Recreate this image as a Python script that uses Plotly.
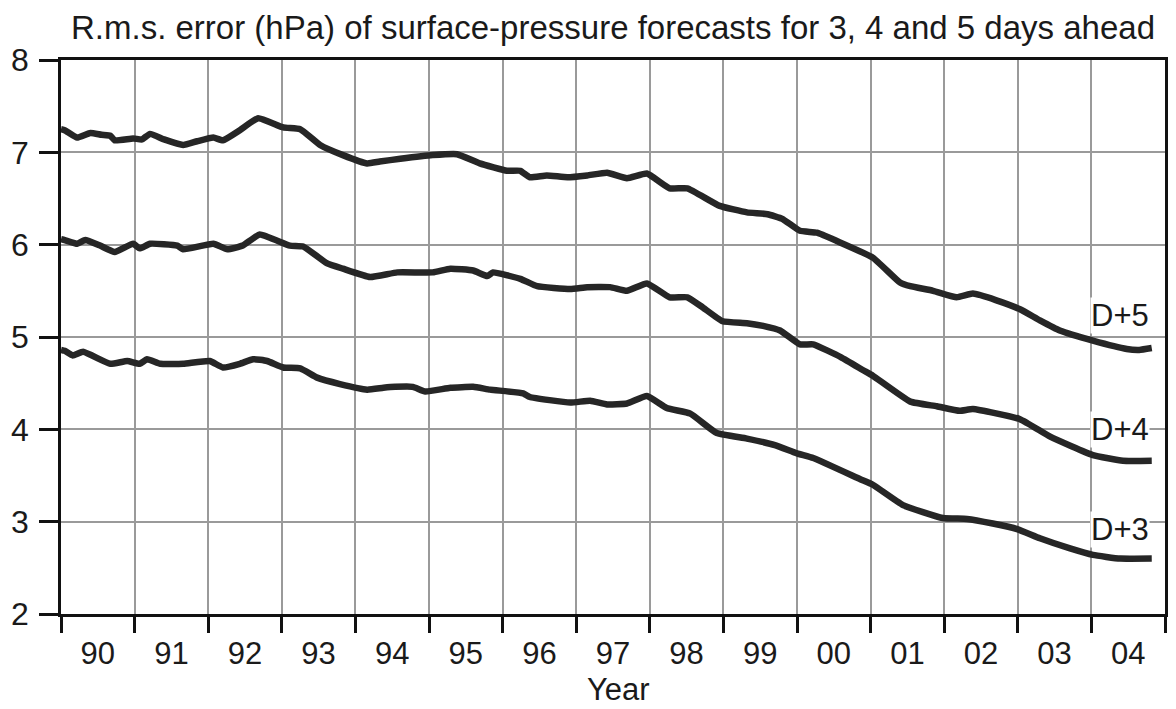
import plotly.graph_objects as go

# D+5 series (fractional year, hPa)
d5_x = [1990.0, 1990.05, 1990.22, 1990.4, 1990.55, 1990.67, 1990.73, 1990.98, 1991.1, 1991.21, 1991.4, 1991.66,
        1991.85, 1992.07, 1992.2, 1992.43, 1992.68, 1993.02, 1993.25, 1993.52, 1993.83, 1994.16, 1994.33,
        1994.61, 1995.05, 1995.38, 1995.69, 1996.06, 1996.24, 1996.37, 1996.6, 1996.88, 1997.15, 1997.42,
        1997.69, 1997.96, 1998.27, 1998.51, 1998.95, 1999.32, 1999.6, 1999.8, 2000.04, 2000.27, 2000.54,
        2001.03, 2001.4, 2001.54, 2001.85, 2002.17, 2002.39, 2002.7, 2003.03, 2003.3, 2003.57, 2004.02,
        2004.48, 2004.65, 2004.82]
d5_y = [7.25, 7.24, 7.16, 7.21, 7.19, 7.18, 7.13, 7.15, 7.14, 7.2, 7.14, 7.08,
        7.12, 7.16, 7.13, 7.24, 7.37, 7.27, 7.25, 7.08, 6.97, 6.88, 6.90,
        6.93, 6.97, 6.98, 6.88, 6.80, 6.80, 6.73, 6.75, 6.73, 6.75, 6.78,
        6.72, 6.77, 6.61, 6.61, 6.42, 6.35, 6.33, 6.28, 6.15, 6.13, 6.04,
        5.86, 5.59, 5.55, 5.50, 5.43, 5.47, 5.40, 5.30, 5.18, 5.07, 4.96,
        4.87, 4.86, 4.88]

# D+4 series
d4_x = [1990.0, 1990.05, 1990.22, 1990.33, 1990.53, 1990.73, 1990.98, 1991.07, 1991.21, 1991.58, 1991.66,
        1992.07, 1992.26, 1992.47, 1992.7, 1993.11, 1993.29, 1993.61, 1993.83, 1994.2, 1994.57, 1995.05,
        1995.29, 1995.6, 1995.79, 1995.87, 1996.24, 1996.47, 1996.92, 1997.15, 1997.46, 1997.69, 1997.96,
        1998.27, 1998.51, 1998.72, 1998.99, 1999.32, 1999.54, 1999.77, 2000.04, 2000.22, 2000.6, 2000.9,
        2001.03, 2001.54, 2001.9, 2002.21, 2002.39, 2003.03, 2003.44, 2004.02, 2004.43, 2004.82]
d4_y = [6.06, 6.05, 6.01, 6.05, 5.99, 5.92, 6.01, 5.96, 6.01, 5.99, 5.95,
        6.01, 5.95, 5.99, 6.11, 5.99, 5.98, 5.80, 5.74, 5.65, 5.70, 5.70,
        5.74, 5.72, 5.66, 5.70, 5.63, 5.55, 5.52, 5.54, 5.54, 5.50, 5.58,
        5.43, 5.43, 5.32, 5.17, 5.15, 5.12, 5.07, 4.92, 4.92, 4.78, 4.64,
        4.58, 4.30, 4.25, 4.20, 4.22, 4.11, 3.92, 3.72, 3.66, 3.66]

# D+3 series
d3_x = [1990.0, 1990.05, 1990.16, 1990.3, 1990.67, 1990.9, 1991.07, 1991.17, 1991.35, 1991.66, 1992.02,
        1992.2, 1992.43, 1992.61, 1992.8, 1993.02, 1993.25, 1993.48, 1993.79, 1994.16, 1994.38, 1994.54,
        1994.78, 1994.95, 1995.29, 1995.6, 1995.83, 1996.28, 1996.37, 1996.92, 1997.19, 1997.42, 1997.69,
        1997.96, 1998.23, 1998.55, 1998.91, 1999.32, 1999.7, 2000.0, 2000.22, 2000.86, 2001.03, 2001.44,
        2001.98, 2002.31, 2002.66, 2002.99, 2003.3, 2003.71, 2004.02, 2004.39, 2004.82]
d3_y = [4.86, 4.85, 4.80, 4.84, 4.71, 4.74, 4.71, 4.76, 4.71, 4.71, 4.74,
        4.67, 4.71, 4.76, 4.74, 4.67, 4.66, 4.56, 4.49, 4.43, 4.45, 4.46,
        4.46, 4.41, 4.45, 4.46, 4.43, 4.39, 4.35, 4.29, 4.31, 4.27, 4.28,
        4.36, 4.23, 4.17, 3.96, 3.90, 3.83, 3.74, 3.69, 3.46, 3.40, 3.18,
        3.04, 3.03, 2.98, 2.92, 2.82, 2.71, 2.64, 2.60, 2.60]

year_ticks = [y + 0.5 for y in range(1990, 2005)]
year_labels = ["90", "91", "92", "93", "94", "95", "96", "97", "98", "99", "00", "01", "02", "03", "04"]
series_labels = ["D+5", "D+4", "D+3"]
label_y = [5.23, 4.0, 2.91]

FONT = "Liberation Sans, Arial, Helvetica, sans-serif"
LINE = "#262626"
TXT = "#1a1a1a"

fig = go.Figure()
for xs, ys in [(d5_x, d5_y), (d4_x, d4_y), (d3_x, d3_y)]:
    fig.add_trace(go.Scatter(x=xs, y=ys, mode="lines",
                             line=dict(color=LINE, width=6.5, shape="spline", smoothing=0.4),
                             showlegend=False, hoverinfo="skip"))

for lab, ly in zip(series_labels, label_y):
    fig.add_annotation(x=2004.39, y=ly, text=lab, showarrow=False, xref="x", yref="y",
                       font=dict(family=FONT, size=31, color=TXT), bgcolor="white",
                       borderpad=0)

fig.add_annotation(x=0.5, y=1.058, xref="paper", yref="paper", yanchor="middle",
                   text="R.m.s. error (hPa) of surface-pressure forecasts for 3, 4 and 5 days ahead",
                   showarrow=False, font=dict(family=FONT, size=33, color=TXT))
fig.add_annotation(x=0.505, y=-0.137, xref="paper", yref="paper", yanchor="middle",
                   text="Year", showarrow=False, font=dict(family=FONT, size=31, color=TXT))

fig.update_layout(
    width=1176, height=709,
    margin=dict(l=61, r=11, t=60, b=95),
    paper_bgcolor="white", plot_bgcolor="white",
    font=dict(family=FONT, color=TXT),
)
fig.update_xaxes(
    range=[1990, 2005], tickvals=year_ticks, ticktext=year_labels, ticks="",
    showgrid=False, zeroline=False, automargin=False,
    showline=True, linecolor="#111", linewidth=2.5, mirror=True,
    tickfont=dict(size=31, family=FONT, color=TXT), ticklabelstandoff=10,
    minor=dict(tick0=1990, dtick=1, ticks="outside", ticklen=16, tickwidth=2.5, tickcolor="#111",
               showgrid=True, gridcolor="#9a9a9a", gridwidth=1.5),
)
fig.update_yaxes(
    range=[2, 8], tickvals=[2, 3, 4, 5, 6, 7, 8], ticks="outside", ticklen=19, tickwidth=2.5,
    tickcolor="#111", showgrid=True, gridcolor="#9a9a9a", gridwidth=1.5, zeroline=False,
    showline=True, linecolor="#111", linewidth=2.5, mirror=True, automargin=False,
    tickfont=dict(size=32, family=FONT, color=TXT), ticklabelstandoff=4,
)

fig.write_html("out.html", config={"displayModeBar": False},
               post_script="document.body.style.margin='0';document.body.style.overflow='hidden';")
